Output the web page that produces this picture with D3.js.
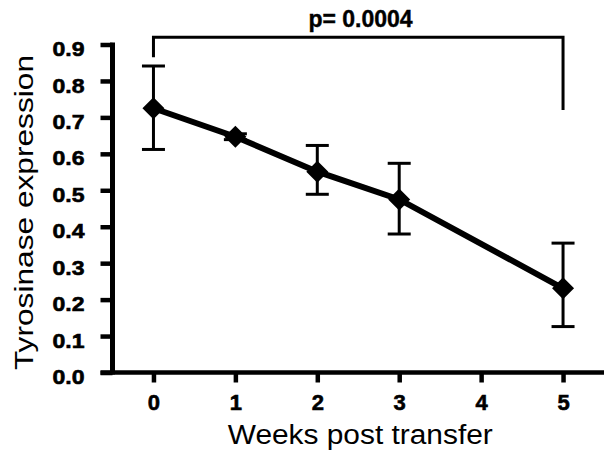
<!DOCTYPE html>
<html>
<head>
<meta charset="utf-8">
<script src="https://cdn.jsdelivr.net/npm/d3@7"></script>
<style>
  body { margin: 0; background: #fff; }
  text { font-family: "Liberation Sans", Arial, sans-serif; fill: #000; }
  .tick-label { font-weight: bold; stroke: #000; stroke-width: 0.6px; }
</style>
</head>
<body>
<div id="chart"></div>
<script>
// data
const weeks = [0, 1, 2, 3, 5];
const means = [0.725, 0.647, 0.551, 0.475, 0.231];
const upper = [0.841, 0.655, 0.623, 0.574, 0.355];
const lower = [0.612, 0.639, 0.489, 0.380, 0.126];
const xTicks = [0, 1, 2, 3, 4, 5];
const yTicks = [0, 0.1, 0.2, 0.3, 0.4, 0.5, 0.6, 0.7, 0.8, 0.9];
const pLabel = 'p= 0.0004';
// bracket: from week 0 to week 5, drawn at 0.92, legs down to these values
const bracketWeeks = [0, 5];
const bracketLevel = 0.92;
const bracketEnds = [0.865, 0.72];

const W = 614, H = 463;

const svg = d3.select('#chart')
    .append('svg')
    .attr('width', W)
    .attr('height', H);

const x = d3.scaleLinear().domain([-0.5, 5.5]).range([112.5, 604]);
const y = d3.scaleLinear().domain([0, 0.9]).range([372.5, 44.5]);

const data = weeks.map((w, i) => ({ week: w, mean: means[i], hi: upper[i], lo: lower[i] }));

/** y axis */
const yAxis = svg.append('g')
    .attr('transform', `translate(${x(-0.5)},0)`)
    .call(d3.axisLeft(y).tickValues(yTicks).tickSize(12).tickSizeOuter(0).tickFormat(d3.format('.1f')));
yAxis.select('.domain').remove();
yAxis.selectAll('.tick line').attr('stroke', '#000').attr('stroke-width', 4.5);
yAxis.selectAll('.tick text')
    .attr('class', 'tick-label')
    .attr('x', -28)
    .attr('dy', '0.54em')
    .style('font-size', '20.5px')
    .attr('textLength', 32)
    .attr('lengthAdjust', 'spacingAndGlyphs');
svg.append('line')
    .attr('x1', x(-0.5)).attr('x2', x(-0.5))
    .attr('y1', y(0.9) - 2).attr('y2', y(0) + 2)
    .attr('stroke', '#000').attr('stroke-width', 5);

/** x axis */
const xAxis = svg.append('g')
    .attr('transform', `translate(0,${y(0)})`)
    .call(d3.axisBottom(x).tickValues(xTicks).tickSize(10).tickSizeOuter(0).tickFormat(d3.format('d')));
xAxis.select('.domain').remove();
xAxis.selectAll('.tick line').attr('stroke', '#000').attr('stroke-width', 4.5);
xAxis.selectAll('.tick text')
    .attr('class', 'tick-label')
    .attr('y', 37.5)
    .attr('dy', 0)
    .style('font-size', '22px');
svg.append('line')
    .attr('x1', x(-0.5) - 12).attr('x2', x(5.5))
    .attr('y1', y(0)).attr('y2', y(0))
    .attr('stroke', '#000').attr('stroke-width', 4.7);

/** axis titles */
svg.append('text')
    .attr('x', (x(-0.5) + x(5.5)) / 2 + 2)
    .attr('y', 444)
    .attr('text-anchor', 'middle')
    .style('font-size', '27px')
    .attr('textLength', 265)
    .attr('lengthAdjust', 'spacingAndGlyphs')
    .text('Weeks post transfer');

svg.append('text')
    .attr('transform', `translate(33,${212.5}) rotate(-90)`)
    .attr('text-anchor', 'middle')
    .style('font-size', '26px')
    .attr('textLength', 315)
    .attr('lengthAdjust', 'spacingAndGlyphs')
    .text('Tyrosinase expression');

/** error bars */
const CAP = 11.5;
const eb = svg.append('g').attr('stroke', '#000').attr('stroke-width', 3);
eb.selectAll('.eb-v').data(data).enter().append('line')
    .attr('x1', d => x(d.week)).attr('x2', d => x(d.week))
    .attr('y1', d => y(d.hi)).attr('y2', d => y(d.lo));
eb.selectAll('.eb-hi').data(data).enter().append('line')
    .attr('x1', d => x(d.week) - CAP).attr('x2', d => x(d.week) + CAP)
    .attr('y1', d => y(d.hi)).attr('y2', d => y(d.hi));
eb.selectAll('.eb-lo').data(data).enter().append('line')
    .attr('x1', d => x(d.week) - CAP).attr('x2', d => x(d.week) + CAP)
    .attr('y1', d => y(d.lo)).attr('y2', d => y(d.lo));

/** mean line */
svg.append('path')
    .datum(data)
    .attr('fill', 'none')
    .attr('stroke', '#000')
    .attr('stroke-width', 6)
    .attr('d', d3.line().x(d => x(d.week)).y(d => y(d.mean)));

/** diamonds */
svg.selectAll('.pt').data(data).enter().append('path')
    .attr('transform', d => `translate(${x(d.week)},${y(d.mean)})`)
    .attr('d', 'M0,-11L11,0L0,11L-11,0Z')
    .attr('fill', '#000');

/** significance bracket */
svg.append('path')
    .attr('fill', 'none')
    .attr('stroke', '#000')
    .attr('stroke-width', 3)
    .attr('d', `M${x(bracketWeeks[0])},${y(bracketEnds[0])}V${y(bracketLevel)}H${x(bracketWeeks[1])}V${y(bracketEnds[1])}`);

svg.append('text')
    .attr('x', 360.5)
    .attr('y', 27)
    .attr('text-anchor', 'middle')
    .style('font-size', '23px')
    .style('font-weight', 'bold')
    .style('stroke', '#000')
    .style('stroke-width', '0.4px')
    .text(pLabel);
</script>
</body>
</html>
